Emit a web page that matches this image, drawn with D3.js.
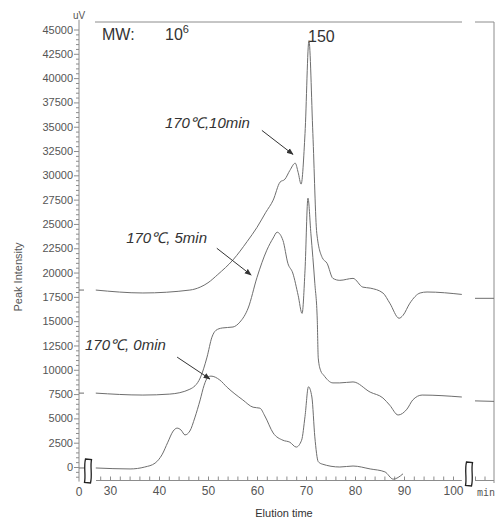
<!DOCTYPE html>
<html lang="en">
<head>
<meta charset="UTF-8"/>
<title>GPC elution curves</title>
<script src="https://d3js.org/d3.v7.min.js"></script>
<style>
    body { margin: 0; background: #fff; }
    svg text { font-family: "Liberation Sans", Arial, sans-serif; }
</style>
</head>
<body>
<script>
    // elution time (min) and peak intensity (uV) for each sample
    var time10 = [27.1, 36.7, 46.3, 48.4, 50.0, 52.0, 55.1, 58.0, 60.0, 61.8, 63.3, 64.7, 65.7, 66.7, 67.8, 68.4, 69.0, 69.8, 70.6, 71.4, 72.2, 73.3, 74.3, 75.5, 76.9, 79.6, 81.6, 83.1, 85.7, 87.1, 89.0, 89.8, 91.2, 93.3, 94.7, 101.8];
    var value10 = [18200, 17900, 18200, 18500, 18950, 19800, 21300, 23200, 24650, 26200, 27450, 29300, 29600, 30500, 31250, 30300, 29100, 34300, 43850, 34300, 24050, 21550, 20950, 19400, 19200, 19400, 18500, 18400, 17900, 16850, 15300, 15600, 16850, 17900, 18000, 17750];

    var time5 = [27.1, 36.7, 42.2, 46.3, 48.4, 49.8, 50.8, 51.6, 52.9, 55.1, 56.5, 58.2, 60.0, 62.0, 63.3, 64.1, 65.3, 66.3, 67.3, 68.4, 69.2, 69.8, 70.4, 71.0, 71.8, 72.3, 72.5, 73.0, 73.6, 75.5, 76.9, 79.6, 83.1, 85.7, 87.1, 88.8, 90.6, 91.8, 93.7, 101.8];
    var value5 = [7600, 7400, 7500, 8000, 9150, 11300, 13350, 14050, 14300, 14400, 14900, 16350, 19500, 22300, 23550, 24150, 23300, 20950, 19950, 17650, 15800, 20250, 27650, 24000, 18900, 15100, 11200, 9900, 9450, 8650, 8650, 8750, 7700, 7100, 6350, 5350, 5950, 6900, 7400, 7200];

    var time0 = [27.1, 34.1, 37.1, 39.2, 40.6, 41.8, 42.9, 43.7, 44.5, 45.3, 46.3, 47.3, 48.4, 49.2, 50.0, 50.6, 52.4, 53.9, 57.1, 59.2, 60.6, 61.6, 63.3, 65.3, 66.7, 68.0, 69.1, 69.8, 70.5, 71.2, 71.8, 72.5, 73.3, 76.9, 79.6, 83.1, 86.1, 87.8, 89.8];
    var value0 = [-100, -200, 0, 400, 1250, 2550, 3700, 4000, 3800, 3300, 3700, 5050, 6900, 8400, 9250, 9350, 8950, 8200, 6900, 6150, 6050, 5250, 3500, 2750, 2550, 2050, 2750, 5200, 8250, 7200, 3100, 550, 300, 0, 100, -200, -500, -1250, -700];

    // short piece of each baseline drawn after the axis break
    var tailTime = [102, 106];
    var tail10 = [17350, 17350];
    var tail5 = [6800, 6750];

    var yTicks = d3.range(0, 45001, 2500);
    var xTicks = [30, 40, 50, 60, 70, 80, 90, 100];

    // annotations: label text, label anchor, arrow start and end (time, uV)
    var labelText = ["170℃,10min", "170℃, 5min", "170℃, 0min"];
    var labelAt = [[41.2, 34830], [33.3, 23000], [24.9, 12000]];
    var arrowFrom = [[61.0, 34620], [51.8, 22500], [43.7, 11300]];
    var arrowTo = [[67.35, 32150], [58.8, 19750], [50.4, 9050]];

    var w = 496;
    var h = 520;
    var axisColor = "#8c8c8c";
    var textColor = "#555";
    var lineColor = "#6e6e6e";

    var xScale = d3.scaleLinear().domain([30, 100]).range([110, 453]);
    var xTail = d3.scaleLinear().domain([102, 106]).range([475, 494]);
    var yScale = d3.scaleLinear().domain([0, 45000]).range([467, 29.5]);
    var axisX = 79;
    var axisY = 480.5;

    var svg = d3.select("body").append("svg")
        .attr("width", w)
        .attr("height", h);

    var defs = svg.append("defs");
    defs.append("marker")
        .attr("id", "arrow")
        .attr("viewBox", "0 0 10 10")
        .attr("refX", 9).attr("refY", 5)
        .attr("markerWidth", 7).attr("markerHeight", 7)
        .attr("markerUnits", "userSpaceOnUse")
        .attr("orient", "auto")
        .append("path")
        .attr("d", "M0,1 L10,5 L0,9 Z")
        .attr("fill", "#333");

    // frame: top line (broken) and right edge
    svg.append("line").attr("x1", 95).attr("x2", 462).attr("y1", 22).attr("y2", 22)
        .attr("stroke", axisColor);
    svg.append("line").attr("x1", 475).attr("x2", 494).attr("y1", 22).attr("y2", 22)
        .attr("stroke", axisColor);
    svg.append("line").attr("x1", 494).attr("x2", 494).attr("y1", 22).attr("y2", 483)
        .attr("stroke", axisColor);

    // y axis
    svg.append("line")
        .attr("x1", axisX).attr("x2", axisX)
        .attr("y1", yScale(46000)).attr("y2", yScale(-1500))
        .attr("stroke", axisColor);

    var yMinor = d3.range(-1000, 45001, 500).filter(function(d) { return d % 2500 !== 0; });
    var gYMinor = svg.append("g")
        .attr("transform", "translate(" + axisX + ",0)")
        .call(d3.axisLeft(yScale).tickValues(yMinor).tickSize(3).tickFormat(""));
    gYMinor.select(".domain").remove();
    gYMinor.selectAll("line").attr("stroke", axisColor);

    var gY = svg.append("g")
        .attr("transform", "translate(" + axisX + ",0)")
        .call(d3.axisLeft(yScale).tickValues(yTicks).tickSize(5).tickPadding(1).tickFormat(d3.format("d")));
    gY.select(".domain").remove();
    gY.selectAll("line").attr("stroke", axisColor);
    gY.selectAll("text")
        .attr("fill", textColor)
        .style("font-size", "11px")
        .style("font-family", "'Liberation Sans', Arial, sans-serif");

    svg.append("text")
        .attr("x", 73).attr("y", 19)
        .attr("fill", textColor)
        .style("font-size", "10px")
        .text("uV");

    // x axis
    svg.append("line")
        .attr("x1", xScale(27.15)).attr("x2", xScale(101.8))
        .attr("y1", axisY).attr("y2", axisY)
        .attr("stroke", axisColor);

    var xMinor = d3.range(28, 101, 2).filter(function(d) { return d % 10 !== 0; });
    var gXMinor = svg.append("g")
        .attr("transform", "translate(0," + axisY + ")")
        .call(d3.axisBottom(xScale).tickValues(xMinor).tickSize(-4).tickFormat(""));
    gXMinor.select(".domain").remove();
    gXMinor.selectAll("line").attr("stroke", axisColor);

    var gX = svg.append("g")
        .attr("transform", "translate(0," + axisY + ")")
        .call(d3.axisBottom(xScale).tickValues(xTicks).tickSize(-4).tickPadding(6).tickFormat(d3.format("d")));
    gX.select(".domain").remove();
    gX.selectAll("line").attr("stroke", axisColor);
    gX.selectAll("text")
        .attr("fill", textColor)
        .style("font-size", "12px")
        .style("font-family", "'Liberation Sans', Arial, sans-serif");

    // piece after the right break
    svg.append("line")
        .attr("x1", xTail(102)).attr("x2", xTail(106))
        .attr("y1", axisY).attr("y2", axisY)
        .attr("stroke", axisColor);
    var gXTail = svg.append("g")
        .attr("transform", "translate(0," + axisY + ")")
        .call(d3.axisBottom(xTail).tickValues([102, 104]).tickSize(-4).tickFormat(""));
    gXTail.select(".domain").remove();
    gXTail.selectAll("line").attr("stroke", axisColor);

    svg.append("text")
        .attr("x", axisX).attr("y", 496)
        .attr("text-anchor", "middle")
        .attr("fill", textColor)
        .style("font-size", "12px")
        .text("0");

    svg.append("text")
        .attr("x", 477).attr("y", 496)
        .attr("fill", textColor)
        .style("font-size", "10px")
        .style("font-family", "'DejaVu Sans Mono', 'Liberation Mono', monospace")
        .text("min");

    // axis titles
    svg.append("text")
        .attr("transform", "translate(22,277) rotate(-90)")
        .attr("text-anchor", "middle")
        .attr("fill", textColor)
        .style("font-size", "11px")
        .text("Peak Intensity");

    svg.append("text")
        .attr("x", 284).attr("y", 517)
        .attr("text-anchor", "middle")
        .attr("fill", "#333")
        .style("font-size", "11px")
        .text("Elution time");

    // traces
    var line = d3.line()
        .x(function(d) { return xScale(d[0]); })
        .y(function(d) { return yScale(d[1]); })
        .curve(d3.curveMonotoneX);

    var tailLine = d3.line()
        .x(function(d) { return xTail(d[0]); })
        .y(function(d) { return yScale(d[1]); });

    var series = [[time10, value10, tail10], [time5, value5, tail5], [time0, value0, null]];

    series.forEach(function(s) {
        var pts = d3.zip(s[0], s[1]);
        svg.append("path")
            .attr("d", line(pts))
            .attr("fill", "none")
            .attr("stroke", lineColor)
            .attr("stroke-width", 1);

        // little stub left of the break, at the starting level
        svg.append("line")
            .attr("x1", axisX).attr("x2", axisX + 5)
            .attr("y1", yScale(s[1][0])).attr("y2", yScale(s[1][0]))
            .attr("stroke", lineColor);

        if (s[2]) {
            svg.append("path")
                .attr("d", tailLine(d3.zip(tailTime, s[2])))
                .attr("fill", "none")
                .attr("stroke", lineColor)
                .attr("stroke-width", 1);
        }
    });

    // axis break symbols
    var breakShape = "M-2.5,-12 L3.5,-11.5 C2,-4 4.5,4 2.5,12 L-3.5,11.5 C-2,4 -4.5,-4 -2.5,-12 Z";
    [[88, 471], [469, 474]].forEach(function(p) {
        svg.append("path")
            .attr("transform", "translate(" + p[0] + "," + p[1] + ")")
            .attr("d", breakShape)
            .attr("fill", "#fff")
            .attr("stroke", "#222")
            .attr("stroke-width", 1.3);
    });

    // annotations
    labelText.forEach(function(t, i) {
        svg.append("text")
            .attr("x", xScale(labelAt[i][0]))
            .attr("y", yScale(labelAt[i][1]))
            .attr("fill", "#333")
            .style("font-size", "15px")
            .style("font-style", "italic")
            .text(t);

        svg.append("line")
            .attr("x1", xScale(arrowFrom[i][0])).attr("y1", yScale(arrowFrom[i][1]))
            .attr("x2", xScale(arrowTo[i][0])).attr("y2", yScale(arrowTo[i][1]))
            .attr("stroke", "#333")
            .attr("stroke-width", 1)
            .attr("marker-end", "url(#arrow)");
    });

    var mw = svg.append("text")
        .attr("x", 102).attr("y", 40)
        .attr("fill", "#333")
        .style("font-size", "16px");
    mw.append("tspan").text("MW:");
    mw.append("tspan").attr("x", 165).text("10");
    mw.append("tspan").attr("dy", -7).style("font-size", "11px").text("6");

    svg.append("text")
        .attr("x", 308).attr("y", 42)
        .attr("fill", "#333")
        .style("font-size", "16px")
        .text("150");
</script>
</body>
</html>
